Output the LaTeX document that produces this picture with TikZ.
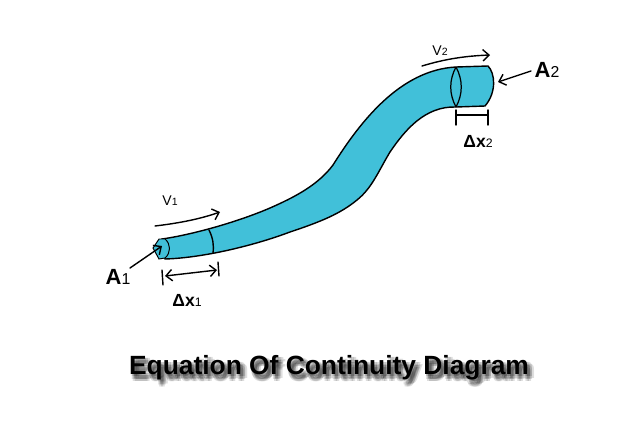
\documentclass[tikz,border=0pt]{standalone}
\usepackage{fontspec}
\usetikzlibrary{arrows.meta}
\setmainfont{Liberation Sans}
\definecolor{pipeblue}{HTML}{41C0D9}
\tikzset{
	pipeline/.style={line width=0.55pt, color=black},
	markline/.style={line width=0.8pt, color=black, line cap=round},
	biglabel/.style={inner sep=0, font=\bfseries\fontsize{12.5}{13}\selectfont},
	smalllabel/.style={inner sep=0, font=\fontsize{8}{9}\selectfont},
	titlelabel/.style={inner sep=0, font=\bfseries\fontsize{15}{17}\selectfont},
	>={Straight Barb[length=3.5pt, width=6.5pt]},
}

\begin{document}
\begin{tikzpicture}[x=0.02cm, y=-0.02cm]
			%%%%% START %%%%%
			\useasboundingbox (0, 0) rectangle (640, 427);
			
			\draw[pipeline, line width=0.8pt, fill=pipeblue] (162, 239)
				.. controls (190, 235) and (235, 223) .. (270, 208)
				.. controls (295, 197) and (318, 185) .. (333, 165)
				.. controls (360, 122) and (400, 70) .. (456, 67)
				-- (488, 66)
				.. controls (495, 73) and (497, 92) .. (485, 106)
				-- (456, 107)
				.. controls (425, 106) and (405, 130) .. (390, 152)
				.. controls (378, 172) and (372, 188) .. (357, 200)
				.. controls (340, 214) and (320, 222) .. (290, 232)
				.. controls (250, 247) and (200, 258) .. (165, 259)
				-- cycle;
			
			\draw[pipeline, fill=pipeblue] (153, 248) -- (159, 239) -- (165, 239)
				.. controls (171, 244) and (171, 253) .. (165, 258) -- (159, 259) -- cycle;
			
			\draw[markline] (209, 230) .. controls (213, 238) and (214, 245) .. (213, 253);
			\draw[pipeline, line width=0.7pt] (456, 67) .. controls (449, 80) and (449, 94) .. (456, 107);
			\draw[pipeline, line width=0.7pt] (456, 67) .. controls (463, 80) and (463, 94) .. (456, 107);
			
			\node[biglabel] (areaone) at (118, 277) {A\textmd{\fontsize{9}{9}\selectfont 1}};
			\node[biglabel] (areatwo) at (547, 70) {A\textmd{\fontsize{9}{9}\selectfont 2}};
			\node[smalllabel] (speedone) at (170, 201) {V\fontsize{6}{6}\selectfont 1};
			\node[smalllabel] (speedtwo) at (440, 51) {V\fontsize{6}{6}\selectfont 2};
			\node[biglabel, font=\bfseries\fontsize{10}{10}\selectfont] (lengthone) at (187, 300) {Δx\textmd{\fontsize{7}{7}\selectfont 1}};
			\node[biglabel, font=\bfseries\fontsize{10}{10}\selectfont] (lengthtwo) at (478, 141) {Δx\textmd{\fontsize{7}{7}\selectfont 2}};
			
			\coordinate (endone) at (162, 246);
			\coordinate (endtwo) at (498, 82);
			\draw[markline, ->] (areaone) ++(12, -9) -- (endone);
			\draw[markline, ->] (areatwo) ++(-16, 1) -- (endtwo);
			
			\draw[markline, ->] (155, 226) .. controls (180, 223) and (200, 219) .. (220, 212);
			\draw[markline, ->] (422, 66) .. controls (445, 59) and (465, 56) .. (490, 55);
			
			\draw[markline] (162, 270) -- (163, 285);
			\draw[markline] (218, 262) -- (219, 276);
			\draw[markline, <->] (165, 276) -- (217, 270);
			
			\draw[markline] (456, 110) -- (456, 125);
			\draw[markline] (488, 110) -- (488, 125);
			\draw[markline] (456, 115) -- (488, 115);
			
			\foreach \dx/\dy in {1/2, 3/2, 5/2, 1/5, 3/5, 5/5, 3/3.5, 2/7, 4/7, 7/4}
				\node[titlelabel, color=black, opacity=0.13] at (329+\dx, 368+\dy) {Equation Of Continuity Diagram};
			\node[titlelabel] (title) at (329, 368) {Equation Of Continuity Diagram};
			
			%%%%% END %%%%%
		\end{tikzpicture}
\end{document}
